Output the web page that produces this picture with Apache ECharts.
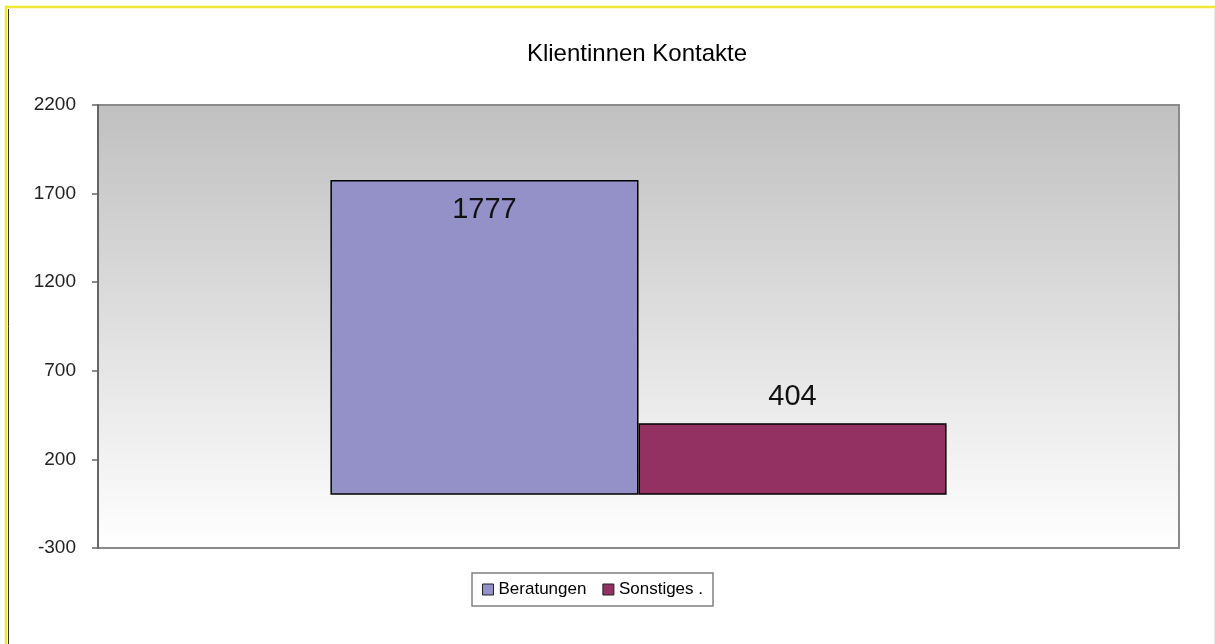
<!DOCTYPE html>
<html>
<head>
<meta charset="utf-8">
<script src="https://cdn.jsdelivr.net/npm/echarts@6/dist/echarts.min.js"></script>
<style>
  html, body { margin: 0; padding: 0; background: #fff; }
  #app { width: 1215px; height: 644px; }
</style>
</head>
<body>
<div id="app"></div>
<script>
const seriesNames = ["Beratungen", "Sonstiges ."];
const seriesValues = [1777, 404];
const seriesColors = ["#9391c8", "#933262"];
const categories = ["Kontakte"];

const font = "Arial, 'Liberation Sans', sans-serif";
const myChart = echarts.init(document.getElementById("app"));

// one bar per series, side by side in a single category
const series = seriesNames.map((name, i) => ({
  name: name,
  type: "bar",
  data: [seriesValues[i]],
  barGap: "0%",
  barCategoryGap: "43%",
  itemStyle: { color: seriesColors[i], borderColor: "#000", borderWidth: 1.5 },
  label: {
    show: true,
    position: i === 0 ? "insideTop" : "top",
    distance: i === 0 ? 16 : 12,
    color: "#111",
    fontFamily: font,
    fontSize: 29,
  },
  silent: true,
}));

myChart.setOption({
  animation: false,
  title: {
    text: "Klientinnen Kontakte",
    left: 632,
    top: 37,
    textAlign: "center",
    textStyle: { fontFamily: font, fontSize: 24, fontWeight: "normal", color: "#000" },
  },
  legend: {
    left: 472,
    top: 573,
    width: 241,
    height: 36,
    padding: [8, 10, 8, 10],
    borderColor: "#808080",
    borderWidth: 1.5,
    itemWidth: 11,
    itemHeight: 11,
    itemGap: 16,
    icon: "rect",
    itemStyle: { borderColor: "#222", borderWidth: 1 },
    textStyle: { fontFamily: font, fontSize: 17, color: "#000" },
    data: seriesNames,
  },
  grid: {
    left: 98,
    top: 105,
    right: 36,
    bottom: 96,
    show: true,
    borderColor: "#8a8a8a",
    borderWidth: 2,
    backgroundColor: new echarts.graphic.LinearGradient(0, 0, 0, 1, [
      { offset: 0, color: "#c0c0c0" },
      { offset: 1, color: "#ffffff" },
    ]),
  },
  xAxis: {
    type: "category",
    data: categories,
    axisLine: { show: false },
    axisTick: { show: false },
    axisLabel: { show: false },
  },
  yAxis: {
    type: "value",
    min: -300,
    max: 2200,
    interval: 500,
    axisLine: { show: true, lineStyle: { color: "#666", width: 2 } },
    axisTick: { show: true, length: 6, lineStyle: { color: "#666", width: 1.5 } },
    axisLabel: {
      fontFamily: font,
      fontSize: 19,
      color: "#222",
      margin: 22,
      formatter: (v) => String(v),
    },
    splitLine: { show: false },
  },
  graphic: [
    { type: "line", shape: { x1: 5, y1: 7, x2: 1215, y2: 7 }, style: { stroke: "#f0e635", lineWidth: 2.5 } },
    { type: "line", shape: { x1: 6, y1: 6, x2: 6, y2: 644 }, style: { stroke: "#f0e635", lineWidth: 2.5 } },
    { type: "line", shape: { x1: 8.5, y1: 9, x2: 8.5, y2: 644 }, style: { stroke: "#333", lineWidth: 1 } },
    { type: "line", shape: { x1: 1214.5, y1: 9, x2: 1214.5, y2: 644 }, style: { stroke: "#e6e6e6", lineWidth: 1 } },
  ],
  series: series,
});
</script>
</body>
</html>
